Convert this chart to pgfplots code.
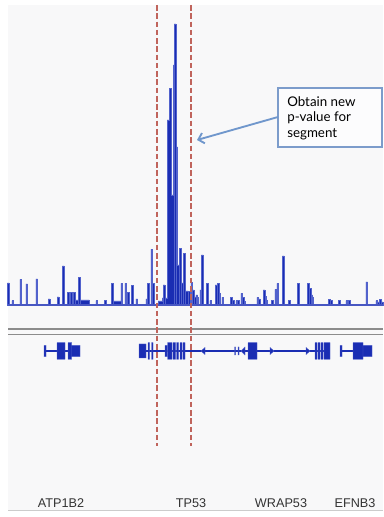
\documentclass[border=0pt]{standalone}
\usepackage{fontspec}
\setmainfont{Liberation Sans}
\newfontfamily\latofont{Lato}
\usepackage{pgfplots}
\usepackage{pgfplotstable}
\pgfplotsset{compat=1.18}
\usetikzlibrary{arrows.meta}
\definecolor{panel}{HTML}{F8F8F9}
\definecolor{barblue}{HTML}{1A2DB3}
\definecolor{halo}{HTML}{5262CC}
\definecolor{redd}{HTML}{C0645C}
\definecolor{callblue}{HTML}{7C9CCB}
\definecolor{arrowblue}{HTML}{7097CC}
\definecolor{labgray}{HTML}{333333}
\definecolor{trackgray}{HTML}{8C8C8C}

% bars: x position (px) and height above baseline (px)
\pgfplotstableread{
x h
8.3 22
12.7 4.3
20.7 25.7
26.7 21
36.7 26
49 6
58 8
63.3 39
68.3 12.3
71 12.3
74 12.3
79.3 27.7
96.7 4.3
105 4.3
112.3 21.7
121.7 21.7
125.7 21.7
128.3 12.3
132.3 19.7
136.7 6
146.7 6
148.3 21.7
151.7 55.7
153.3 21.7
164 20
175 281
180 56.7
184 51.7
189 13.3
191.7 22.3
193.3 15
196.7 10
200.7 15
202.3 50
207.3 21.7
210.7 4.3
216 20
218.3 21.7
222.7 7.7
231 7.7
233.3 4.3
236.7 4.3
238.3 4.3
241.7 11.7
243.3 7.7
257.7 7.7
259.3 6
264 15
265.7 8.3
272.3 4.3
275.7 15.7
277.7 21.7
283.3 49
289 4.3
298.3 21.7
308.3 21.7
310 16.7
311.7 10
329.3 5.7
331 4.3
339.3 4.3
346.7 4.3
349.3 4.3
366.7 23
376.7 4.3
380 5.7
}\bars

\begin{document}
\begin{tikzpicture}
\begin{axis}[
  width=287.25pt, height=387.75pt, scale only axis,
  xmin=0, xmax=383, ymin=-212, ymax=305,
  axis line style={draw=none}, ticks=none,
  clip=false,
  axis background/.style={fill=white},
]
% panel background
\addplot[fill=panel, draw=none] coordinates {(8,300)(383,300)(383,-205)(8,-205)} -- cycle;
% bottom rule
\addplot[color=black!20, line width=0.9pt] coordinates {(8,-205.5)(383,-205.5)};
% dense low-level coverage (step profile)
\addplot[const plot mark left, fill=barblue, draw=halo, line width=0.4pt] coordinates {
(8,0)(74,5)(89,0)(112,4)(121,0)(158,4)(162,7)(167,185)(169.3,216.7)(171.7,110)(173.3,240)(176,158)(177.7,40)(179.3,22)(180.7,22)(183.3,22)(185,14)(188,0)(192,8)(198,0)(216,12)(220,0)(241,4)(245,0)(263,5)(267,0)(309,8)(313,0)(329,3)(332,0)(376,3)(383,3)(383,0)} -- cycle;
% individual bars
\addplot[ybar, bar width=1.7, bar shift=0pt, fill=barblue, draw=halo, line width=0.3pt] table[x=x,y=h]{\bars};
% baseline
\addplot[color=barblue!80, line width=0.9pt] coordinates {(8,0)(383,0)};
% double separator
\addplot[color=trackgray, line width=1.1pt] coordinates {(8,-24)(383,-24)};
\addplot[color=trackgray, line width=1.1pt] coordinates {(8,-29.5)(383,-29.5)};
% gene intron lines
\addplot[color=barblue, line width=0.8pt] coordinates {(44,-46)(80,-46)};
\addplot[color=barblue, line width=0.8pt] coordinates {(139,-46)(330,-46)};
\addplot[color=barblue, line width=0.8pt] coordinates {(340,-46)(372,-46)};
% exons (tall: +-8.3, medium: +-5.6)
\addplot[fill=barblue, draw=halo, line width=0.3pt, unbounded coords=jump] coordinates {
(44,-40.4)(46,-40.4)(46,-51.6)(44,-51.6)(44,-40.4) (nan,nan)
(57,-37.7)(65,-37.7)(65,-54.3)(57,-54.3)(57,-37.7) (nan,nan)
(68,-37.7)(71.7,-37.7)(71.7,-54.3)(68,-54.3)(68,-37.7) (nan,nan)
(71.7,-40.4)(80,-40.4)(80,-51.6)(71.7,-51.6)(71.7,-40.4) (nan,nan)
(139,-39)(146,-39)(146,-53)(139,-53)(139,-39) (nan,nan)
(148,-37.7)(149.5,-37.7)(149.5,-54.3)(148,-54.3)(148,-37.7) (nan,nan)
(151.5,-37.7)(153,-37.7)(153,-54.3)(151.5,-54.3)(151.5,-37.7) (nan,nan)
(165,-40.4)(167,-40.4)(167,-51.6)(165,-51.6)(165,-40.4) (nan,nan)
(167.5,-37.7)(172,-37.7)(172,-54.3)(167.5,-54.3)(167.5,-37.7) (nan,nan)
(173,-37.7)(175.5,-37.7)(175.5,-54.3)(173,-54.3)(173,-37.7) (nan,nan)
(176.5,-37.7)(178.5,-37.7)(178.5,-54.3)(176.5,-54.3)(176.5,-37.7) (nan,nan)
(180,-37.7)(182,-37.7)(182,-54.3)(180,-54.3)(180,-37.7) (nan,nan)
(183,-37.7)(185,-37.7)(185,-54.3)(183,-54.3)(183,-37.7) (nan,nan)
(234.5,-42)(235.5,-42)(235.5,-50)(234.5,-50)(234.5,-42) (nan,nan)
(238,-42)(239,-42)(239,-50)(238,-50)(238,-42) (nan,nan)
(241,-46)(245,-42)(245,-50)(241,-46) (nan,nan)
(248,-37.7)(257,-37.7)(257,-54.3)(248,-54.3)(248,-37.7) (nan,nan)
(201,-46)(205,-42.5)(205,-49.5)(201,-46) (nan,nan)
(274,-46)(270,-42.5)(270,-49.5)(274,-46) (nan,nan)
(310,-46)(306,-42.5)(306,-49.5)(310,-46) (nan,nan)
(315,-37.7)(317,-37.7)(317,-54.3)(315,-54.3)(315,-37.7) (nan,nan)
(318,-37.7)(320,-37.7)(320,-54.3)(318,-54.3)(318,-37.7) (nan,nan)
(321,-37.7)(323,-37.7)(323,-54.3)(321,-54.3)(321,-37.7) (nan,nan)
(324,-37.7)(330,-37.7)(330,-54.3)(324,-54.3)(324,-37.7) (nan,nan)
(340,-40.4)(342,-40.4)(342,-51.6)(340,-51.6)(340,-40.4) (nan,nan)
(353,-37.7)(363,-37.7)(363,-54.3)(353,-54.3)(353,-37.7) (nan,nan)
(363,-40.4)(372,-40.4)(372,-51.6)(363,-51.6)(363,-40.4)
};
% red dashed segment boundaries
\addplot[color=redd, line width=1.5pt, dash pattern=on 4.2pt off 2pt] coordinates {(157,300)(157,-141)};
\addplot[color=redd, line width=1.5pt, dash pattern=on 4.2pt off 2pt] coordinates {(191,300)(191,-141)};
% callout
\draw[callblue, line width=0.8pt, fill=white!60!panel] (axis cs:278,217) rectangle (axis cs:382,158);
\node[anchor=base west, font=\latofont\fontsize{10}{12}\selectfont, inner sep=0pt] at (axis cs:287,198) {Obtain new};
\node[anchor=base west, font=\latofont\fontsize{10}{12}\selectfont, inner sep=0pt] at (axis cs:287,183) {p-value for};
\node[anchor=base west, font=\latofont\fontsize{10}{12}\selectfont, inner sep=0pt] at (axis cs:287,167) {segment};
\draw[arrowblue, line width=1.4pt, -{Straight Barb[length=4pt,width=8pt]}] (axis cs:278,188) -- (axis cs:197,165);
% gene labels
\node[font=\fontsize{9.5}{11}\selectfont, text=labgray] at (axis cs:61,-198.5) {ATP1B2};
\node[font=\fontsize{9.5}{11}\selectfont, text=labgray] at (axis cs:191,-198.5) {TP53};
\node[font=\fontsize{9.5}{11}\selectfont, text=labgray] at (axis cs:281,-198.5) {WRAP53};
\node[font=\fontsize{9.5}{11}\selectfont, text=labgray] at (axis cs:355,-198.5) {EFNB3};
\end{axis}
\end{tikzpicture}
\end{document}
